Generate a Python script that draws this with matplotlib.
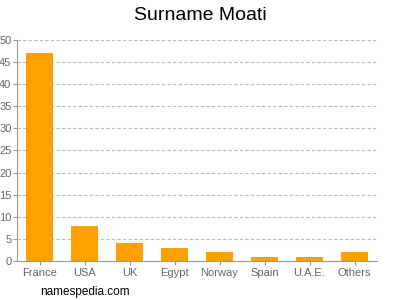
import matplotlib
matplotlib.use("Agg")
import matplotlib.pyplot as plt

categories = ["France", "USA", "UK", "Egypt", "Norway", "Spain", "U.A.E.", "Others"]
values = [47, 8, 4, 3, 2, 1, 1, 2]
yticks = [0, 5, 10, 15, 20, 25, 30, 35, 40, 45, 50]

plt.rcParams['font.family'] = ['Liberation Sans', 'DejaVu Sans']
fig = plt.figure(figsize=(4, 3), dpi=100)
ax = fig.add_axes([0.0425, 0.13, 0.9, 0.7367])
x = list(range(len(categories)))
ax.bar(x, values, width=0.62, color="#FFA000", zorder=3)
ax.set_xlim(-0.5, len(categories) - 0.5)
ax.set_ylim(0, 50)
ax.set_yticks(yticks)
ax.set_xticks(x)
ax.set_xticklabels(categories)
ax.grid(axis="y", color="#bbbbbb", linestyle=(0, (3, 2)), linewidth=0.8, zorder=0)
for s in ["top", "right"]:
    ax.spines[s].set_visible(False)
for s in ["left", "bottom"]:
    ax.spines[s].set_color("#999999")
    ax.spines[s].set_linewidth(0.8)
ax.tick_params(axis="both", colors="#999999", labelcolor="#666666", labelsize=8, length=3, width=0.8)
ax.tick_params(axis="y", pad=1)
ax.tick_params(axis="x", pad=2)
fig.text(0.5, 0.95, "Surname Moati", ha="center", va="center", fontsize=14, color="#000000")
fig.text(0.1, 0.028, "namespedia.com", ha="left", va="center", fontsize=8.5, color="#000000")
fig.savefig("out.png", dpi=100)
